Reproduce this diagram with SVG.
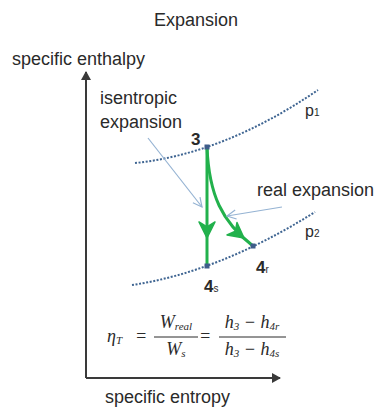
<svg xmlns="http://www.w3.org/2000/svg" width="379" height="408" viewBox="0 0 379 408">
<style>
.t{font-family:"Liberation Sans",Arial,sans-serif;font-size:18px;fill:#2a2a2a}
.n{font-family:"Liberation Sans",Arial,sans-serif;font-size:17px;font-weight:bold;fill:#2a2a2a}
.sub{font-family:"Liberation Sans",Arial,sans-serif;font-size:10px;fill:#2a2a2a}
.p{font-family:"Liberation Sans",Arial,sans-serif;font-size:16px;fill:#2a2a2a}
.m{font-family:"Liberation Serif","Times New Roman",serif;font-style:italic;font-size:18px;fill:#2a2a2a}
.ms{font-size:11px}
.dot{fill:none;stroke:#3f6592;stroke-width:2;stroke-dasharray:2 1.6}
.axis{fill:none;stroke:#3a3a3a;stroke-width:2}
.grn{fill:none;stroke:#22b14c;stroke-width:3}
.gh{fill:#22b14c;stroke:#22b14c;stroke-width:1.5;stroke-linejoin:round}
.lb{fill:none;stroke:#95b3d3;stroke-width:1.2}
.pt{fill:#3e5c8a}
.bar{stroke:#2a2a2a;stroke-width:1}
</style>
<defs>
<marker id="ax" markerWidth="10" markerHeight="10" refX="8" refY="5" orient="auto" markerUnits="userSpaceOnUse">
<path d="M0,0 L9,5 L0,10 Z" fill="#3a3a3a"/>
</marker>
<marker id="lbh" markerWidth="12" markerHeight="12" refX="10" refY="6" orient="auto" markerUnits="userSpaceOnUse">
<path d="M1,1.5 L10,6 L1,10.5" fill="none" stroke="#95b3d3" stroke-width="1.2"/>
</marker>
</defs>

<text class="t" x="196" y="26" text-anchor="middle">Expansion</text>

<g id="axes">
<path class="axis" d="M86,378 L86,72" marker-end="url(#ax)"/>
<path class="axis" d="M86,378 L280,378" marker-end="url(#ax)"/>
<text class="t" x="12" y="65">specific enthalpy</text>
<text class="t" x="105" y="403">specific entropy</text>
</g>

<g id="isobar-p1">
<path class="dot" d="M135,163 Q224,154 318,90"/>
<text class="p" x="305" y="116">p<tspan class="sub">1</tspan></text>
</g>
<g id="isobar-p2">
<path class="dot" d="M132,285 Q219.6,272 315,212"/>
<text class="p" x="305" y="237">p<tspan class="sub">2</tspan></text>
</g>

<g id="connectors">
<path class="grn" d="M207,147 L207,266"/>
<path class="gh" d="M199,222 L207,227 L215,222 L207,238 Z"/>
<path class="grn" d="M207,147 C209,195 222,222 253,246"/>
<path class="gh" d="M227,235 L235.4,231.2 L237,222.5 L244,238 Z"/>
<path class="lb" d="M148,138 L202,207" marker-end="url(#lbh)"/>
<path class="lb" d="M282,207 L227,216" marker-end="url(#lbh)"/>
</g>

<g id="state-3">
<rect class="pt" x="204.5" y="144.5" width="5" height="5"/>
<text class="n" x="191" y="145">3</text>
</g>
<g id="state-4s">
<rect class="pt" x="204.5" y="263.5" width="5" height="5"/>
<text class="n" x="204" y="292">4<tspan class="sub" font-weight="normal">s</tspan></text>
</g>
<g id="state-4r">
<rect class="pt" x="250.5" y="243.5" width="5" height="5"/>
<text class="n" x="256" y="273">4<tspan class="sub" font-weight="normal">r</tspan></text>
</g>

<g id="label-isentropic">
<text class="t" x="100" y="104">isentropic</text>
<text class="t" x="100" y="128">expansion</text>
</g>
<g id="label-real">
<text class="t" x="257" y="196">real expansion</text>
</g>

<g id="formula">
<text class="m" x="107" y="342">η<tspan class="ms" dy="2">T</tspan></text>
<text class="m" x="135" y="342">=</text>
<text class="m" x="176" y="328" text-anchor="middle">W<tspan class="ms" dy="2">real</tspan></text>
<line class="bar" x1="154" y1="337" x2="198" y2="337"/>
<text class="m" x="176" y="355" text-anchor="middle">W<tspan class="ms" dy="2">s</tspan></text>
<text class="m" x="199" y="342">=</text>
<text class="m" x="252" y="328" text-anchor="middle">h<tspan class="ms" dy="2">3</tspan><tspan dy="-2"> − h</tspan><tspan class="ms" dy="2">4r</tspan></text>
<line class="bar" x1="219" y1="337" x2="286" y2="337"/>
<text class="m" x="252" y="355" text-anchor="middle">h<tspan class="ms" dy="2">3</tspan><tspan dy="-2"> − h</tspan><tspan class="ms" dy="2">4s</tspan></text>
</g>
</svg>
